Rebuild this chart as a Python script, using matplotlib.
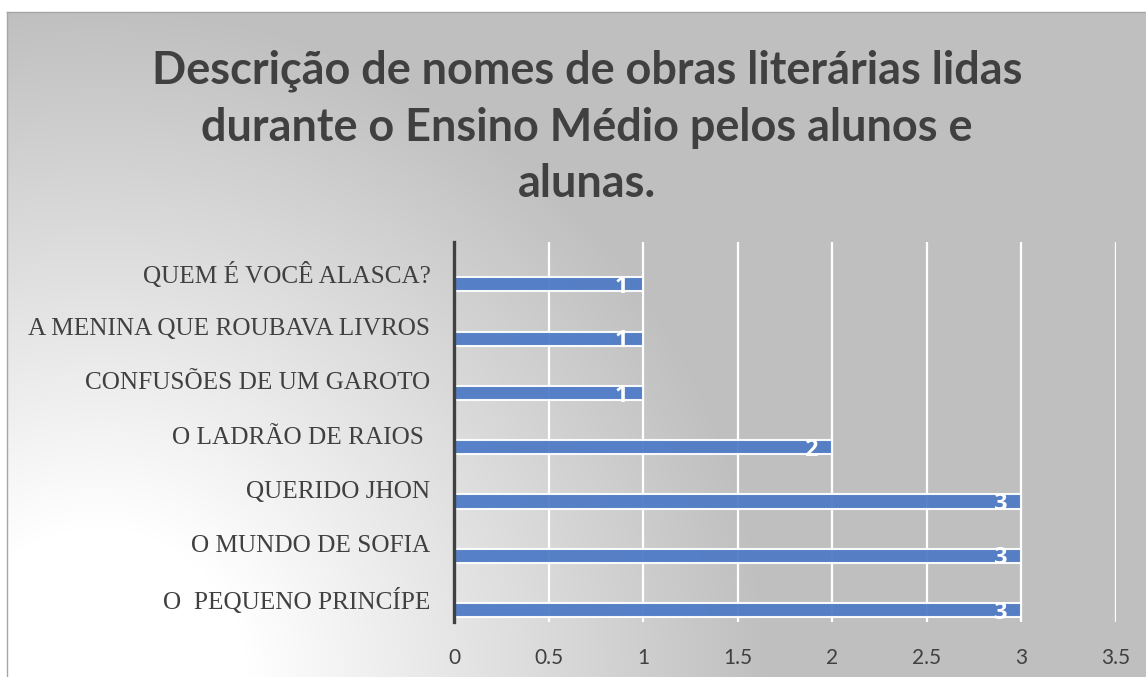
import matplotlib.pyplot as plt
import numpy as np

obras = ["O  PEQUENO PRINCÍPE", "O MUNDO DE SOFIA", "QUERIDO JHON", "O LADRÃO DE RAIOS ",
         "CONFUSÕES DE UM GAROTO", "A MENINA QUE ROUBAVA LIVROS", "QUEM É VOCÊ ALASCA?"]
leituras = [3, 3, 3, 2, 1, 1, 1]
xticks = [0, 0.5, 1, 1.5, 2, 2.5, 3, 3.5]

W, H = 1146, 677
fig = plt.figure(figsize=(W / 100, H / 100), dpi=100)
fig.patch.set_facecolor("white")

# fundo com gradiente radial (branco no canto inferior esquerdo)
bg = fig.add_axes([7 / W, 0, 1 - 7 / W, (H - 12) / H])
yy, xx = np.mgrid[0:H - 12, 0:W - 7]
d = np.hypot(xx - 90, (H - 12) - yy)
g = 1 - 0.25 * np.clip((d - 150) / 520, 0, 1)
bg.imshow(np.dstack([g, g, g]), aspect="auto", extent=[0, 1, 0, 1], origin="upper")
bg.set_xticks([])
bg.set_yticks([])
for s in bg.spines.values():
    s.set_color("#a6a6a6")
    s.set_linewidth(1)
bg.spines["bottom"].set_visible(False)
bg.spines["right"].set_visible(False)

ax = fig.add_axes([454 / W, (H - 622) / H, (1116 - 454) / W, (622 - 242) / H])
ax.set_facecolor("none")

pos = np.arange(len(obras))
ax.barh(pos, leituras, height=0.26, color="#4f7bc6", edgecolor="white", linewidth=1.5,
        alpha=0.95, zorder=3)
for p, v in zip(pos, leituras):
    ax.text(v - 0.08, p - 0.05, str(v), ha="right", va="center", color="white",
            fontsize=17, fontweight="bold", family="Open Sans", zorder=4)

ax.set_xlim(0, 3.5)
ax.set_ylim(-0.22, 6.78)
ax.set_xticks(xticks)
ax.set_xticklabels([f"{t:g}" for t in xticks], family="Lato", fontsize=15, color="#404040")
ax.set_yticks(pos + 0.22)
ax.set_yticklabels(obras, family="Liberation Serif", fontsize=18.2, color="#404040")
ax.tick_params(axis="both", length=0)
ax.tick_params(axis="y", pad=17)
ax.tick_params(axis="x", pad=19)

ax.grid(axis="x", color="white", linewidth=1.6, zorder=1)
ax.grid(axis="y", visible=False)
for s in ["top", "right", "bottom"]:
    ax.spines[s].set_visible(False)
ax.spines["left"].set_color("#404040")
ax.spines["left"].set_linewidth(2.4)
ax.spines["left"].set_zorder(5)

fig.text(587 / W, 1 - 50 / H,
         "Descrição de nomes de obras literárias lidas\ndurante o Ensino Médio pelos alunos e\nalunas.",
         ha="center", va="top", fontsize=32.4, fontweight="bold", family="Lato",
         color="#404040", linespacing=1.42)

fig.savefig("out.png", dpi=100)
